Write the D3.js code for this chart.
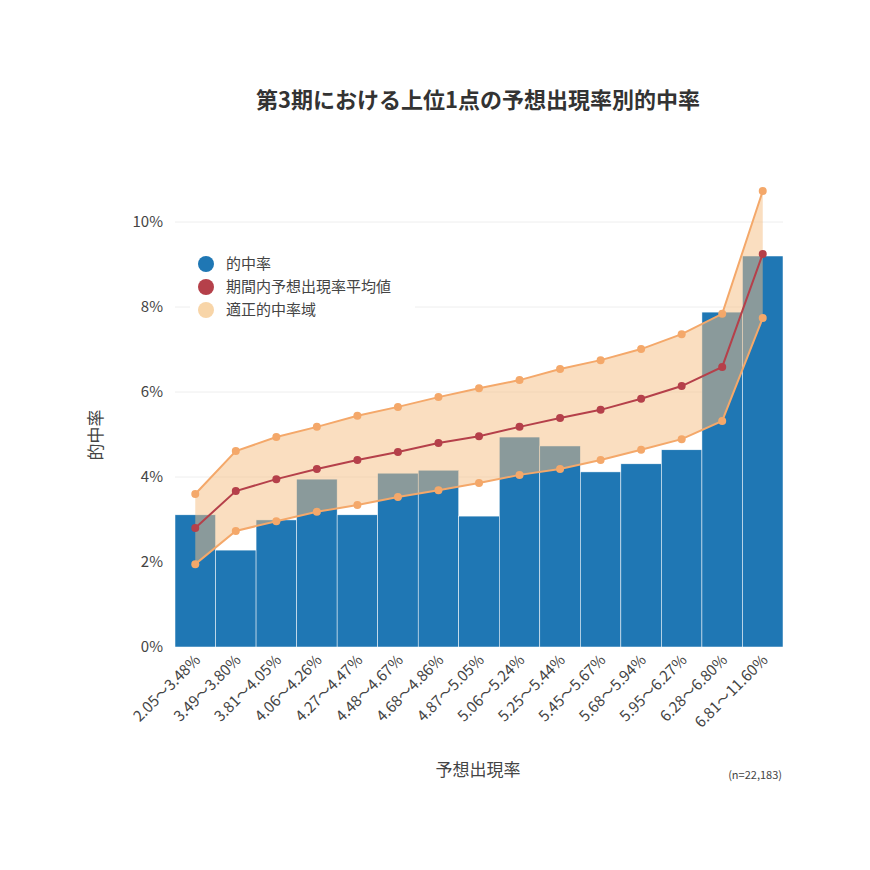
<!doctype html>
<html>
<head>
<meta charset="utf-8">
<script src="https://cdn.jsdelivr.net/npm/d3@7"></script>
<style>
  body { margin: 0; background: #fff; font-family: "Noto Sans CJK JP", "Noto Sans", sans-serif; }
</style>
</head>
<body>
<svg id="chart" width="870" height="870"></svg>
<script>
  // label, hit rate, mean predicted rate, upper bound, lower bound (%)
  var data = [
    {label: "2.05～3.48%", hit: 3.11, mean: 2.80, hi: 3.60, lo: 1.95},
    {label: "3.49～3.80%", hit: 2.28, mean: 3.67, hi: 4.61, lo: 2.73},
    {label: "3.81～4.05%", hit: 2.99, mean: 3.95, hi: 4.94, lo: 2.96},
    {label: "4.06～4.26%", hit: 3.95, mean: 4.19, hi: 5.18, lo: 3.18},
    {label: "4.27～4.47%", hit: 3.11, mean: 4.40, hi: 5.44, lo: 3.34},
    {label: "4.48～4.67%", hit: 4.09, mean: 4.59, hi: 5.65, lo: 3.53},
    {label: "4.68～4.86%", hit: 4.16, mean: 4.80, hi: 5.88, lo: 3.69},
    {label: "4.87～5.05%", hit: 3.08, mean: 4.96, hi: 6.09, lo: 3.86},
    {label: "5.06～5.24%", hit: 4.94, mean: 5.18, hi: 6.28, lo: 4.05},
    {label: "5.25～5.44%", hit: 4.73, mean: 5.39, hi: 6.54, lo: 4.19},
    {label: "5.45～5.67%", hit: 4.12, mean: 5.58, hi: 6.75, lo: 4.40},
    {label: "5.68～5.94%", hit: 4.31, mean: 5.84, hi: 7.01, lo: 4.64},
    {label: "5.95～6.27%", hit: 4.64, mean: 6.14, hi: 7.36, lo: 4.89},
    {label: "6.28～6.80%", hit: 7.88, mean: 6.59, hi: 7.84, lo: 5.32},
    {label: "6.81～11.60%", hit: 9.20, mean: 9.25, hi: 10.73, lo: 7.74}
  ];

  var svg = d3.select("#chart");
  var left = 175, right = 783, top = 180, bottom = 647;

  var x = d3.scaleBand().domain(data.map(function(d) { return d.label; })).range([left, right]).padding(0);
  var y = d3.scaleLinear().domain([0, 11]).range([bottom, bottom - 11 * 42.5]);
  var cx = function(d) { return x(d.label) + x.bandwidth() / 2; };

  // grid
  svg.append("g").selectAll("line").data([2, 4, 6, 8, 10]).enter().append("line")
    .attr("x1", left).attr("x2", right)
    .attr("y1", function(d) { return y(d); }).attr("y2", function(d) { return y(d); })
    .attr("stroke", "#eee");

  // bars
  svg.append("g").selectAll("rect").data(data).enter().append("rect")
    .attr("x", function(d) { return x(d.label); })
    .attr("width", x.bandwidth())
    .attr("y", function(d) { return y(d.hit); })
    .attr("height", function(d) { return bottom - y(d.hit); })
    .attr("fill", "#1f77b4").attr("stroke", "#fff").attr("stroke-width", 0.5);

  // band
  svg.append("path").datum(data)
    .attr("d", d3.area().x(cx).y0(function(d) { return y(d.lo); }).y1(function(d) { return y(d.hi); }))
    .attr("fill", "rgba(245,190,130,0.5)");

  var series = [
    {key: "hi", color: "#f4a86a"},
    {key: "lo", color: "#f4a86a"},
    {key: "mean", color: "#b5404a"}
  ];
  series.forEach(function(s) {
    svg.append("path").datum(data)
      .attr("d", d3.line().x(cx).y(function(d) { return y(d[s.key]); }))
      .attr("fill", "none").attr("stroke", s.color).attr("stroke-width", 2);
    svg.append("g").selectAll("circle").data(data).enter().append("circle")
      .attr("cx", cx).attr("cy", function(d) { return y(d[s.key]); })
      .attr("r", 4).attr("fill", s.color);
  });

  // y axis labels
  svg.append("g").selectAll("text").data([0, 2, 4, 6, 8, 10]).enter().append("text")
    .attr("x", left - 12).attr("y", function(d) { return y(d) + 5; })
    .attr("text-anchor", "end").attr("font-size", 15).attr("fill", "#444")
    .text(function(d) { return d + "%"; });

  // x axis labels
  svg.append("g").selectAll("text").data(data).enter().append("text")
    .attr("transform", function(d) { return "translate(" + (cx(d) + 6) + "," + (bottom + 14) + ") rotate(-45)"; })
    .attr("text-anchor", "end").attr("font-size", 15).attr("fill", "#444")
    .text(function(d) { return d.label; });

  // titles
  svg.append("text").attr("x", 478).attr("y", 108).attr("text-anchor", "middle")
    .attr("font-size", 22).attr("font-weight", "bold").attr("fill", "#333")
    .text("第3期における上位1点の予想出現率別的中率");
  svg.append("text").attr("transform", "translate(102,435) rotate(-90)").attr("text-anchor", "middle")
    .attr("font-size", 17).attr("fill", "#444").text("的中率");
  svg.append("text").attr("x", 478).attr("y", 776).attr("text-anchor", "middle")
    .attr("font-size", 17).attr("fill", "#444").text("予想出現率");
  svg.append("text").attr("x", 782).attr("y", 779).attr("text-anchor", "end")
    .attr("font-size", 11).attr("fill", "#444").text("(n=22,183)");

  // legend
  var legend = [
    {name: "的中率", color: "#1f77b4"},
    {name: "期間内予想出現率平均値", color: "#b5404a"},
    {name: "適正的中率域", color: "#f8d5a8"}
  ];
  svg.append("rect").attr("x", 190).attr("y", 248).attr("width", 225).attr("height", 76).attr("fill", "#fff");
  var lg = svg.append("g").selectAll("g").data(legend).enter().append("g")
    .attr("transform", function(d, i) { return "translate(206," + (264 + i * 23) + ")"; });
  lg.append("circle").attr("r", 8).attr("fill", function(d) { return d.color; });
  lg.append("text").attr("x", 20).attr("y", 5).attr("font-size", 15).attr("fill", "#444")
    .text(function(d) { return d.name; });
</script>
</body>
</html>
